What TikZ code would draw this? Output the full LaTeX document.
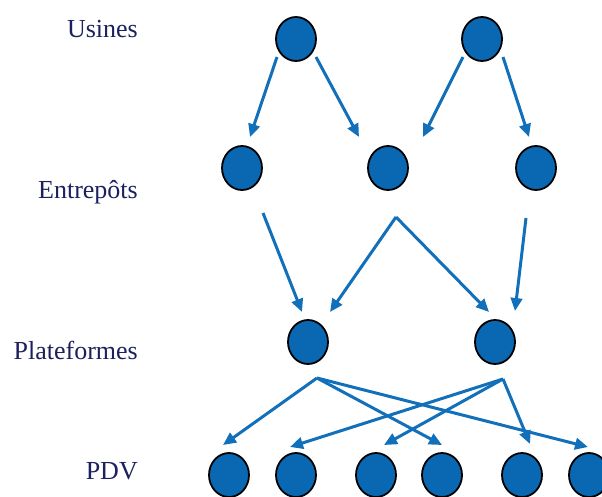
\documentclass[tikz,border=0pt]{standalone}
\usepackage{fontspec}
\setmainfont{Liberation Serif}
\usetikzlibrary{arrows, positioning, calc}
\usetikzlibrary {arrows.meta}
\usetikzlibrary{shapes.geometric}
\usepackage{xcolor}
\definecolor{sitecolor}{RGB}{10,104,178}
\definecolor{flowcolor}{RGB}{18,112,186}
\definecolor{levelcolor}{RGB}{28,32,92}

\begin{document}
\begin{tikzpicture}[x=1pt, y=-1pt, site/.style={ellipse, minimum width=40pt, minimum height=44pt, inner sep=0pt, draw=black, line width=1.8pt, fill=sitecolor},
    flow/.style={->, line width=3pt, draw=flowcolor}, >={Triangle[length=13pt, width=11.5pt]}]
    \tikzstyle{level} = [anchor=base east, inner sep=0pt, text=levelcolor, font=\fontsize{26}{30}\selectfont]
    \useasboundingbox (0,0) rectangle (602,496);
    \clip (0,0) rectangle (602,496);

    \node[level] (usines) at (138,37) {Usines};
    \node[level] (entrepots) at (138,198) {Entrepôts};
    \node[level] (plateformes) at (138,359) {Plateformes};
    \node[level] (pdv) at (138,479) {PDV};

    \node[site] (u1) at (296,39) {};
    \node[site] (u2) at (482,39) {};

    \node[site] (e1) at (242,168) {};
    \node[site] (e2) at (388,168) {};
    \node[site] (e3) at (536,168) {};

    \node[site] (p1) at (308,342) {};
    \node[site] (p2) at (495,342) {};

    \foreach \x [count=\i] in {229,296,376,442,522,589}
      \node[site] (d\i) at (\x,475) {};

    % start and end points of the flows
    \coordinate (u1l) at ($(u1)+(-19,18)$);
    \coordinate (u1r) at ($(u1)+(20,18)$);
    \coordinate (u2l) at ($(u2)+(-19,18)$);
    \coordinate (u2r) at ($(u2)+(21,18)$);
    \coordinate (e1in) at ($(e1)+(8,-31)$);
    \coordinate (e2inl) at ($(e2)+(-29,-31)$);
    \coordinate (e2inr) at ($(e2)+(35,-31)$);
    \coordinate (e3in) at ($(e3)+(-7,-31)$);
    \coordinate (e1out) at ($(e1)+(21,45)$);
    \coordinate (e2out) at ($(e2)+(8,49)$);
    \coordinate (e3out) at ($(e3)+(-10,50)$);
    \coordinate (p1inl) at ($(p1)+(-6,-30)$);
    \coordinate (p1inr) at ($(p1)+(22,-30)$);
    \coordinate (p2inl) at ($(p2)+(-6,-30)$);
    \coordinate (p2inr) at ($(p2)+(20,-31)$);
    \coordinate (p1out) at ($(p1)+(9,36)$);
    \coordinate (p2out) at ($(p2)+(8,37)$);
    \foreach \i/\dx/\dy in {1/-6/-30,2/-6/-28,3/8/-30,4/0/-30,5/8/-31,6/-1/-28}
      \coordinate (din\i) at ($(d\i)+(\dx,\dy)$);

    \draw[flow] (u1l) -- (e1in);
    \draw[flow] (u1r) -- (e2inl);
    \draw[flow] (u2l) -- (e2inr);
    \draw[flow] (u2r) -- (e3in);

    \draw[flow] (e1out) -- (p1inl);
    \draw[flow] (e2out) -- (p1inr);
    \draw[flow] (e2out) -- (p2inl);
    \draw[flow] (e3out) -- (p2inr);

    \draw[flow] (p1out) -- (din1);
    \draw[flow] (p1out) -- (din4);
    \draw[flow] (p1out) -- (din6);
    \draw[flow] (p2out) -- (din2);
    \draw[flow] (p2out) -- (din3);
    \draw[flow] (p2out) -- (din5);

\end{tikzpicture}
\end{document}
